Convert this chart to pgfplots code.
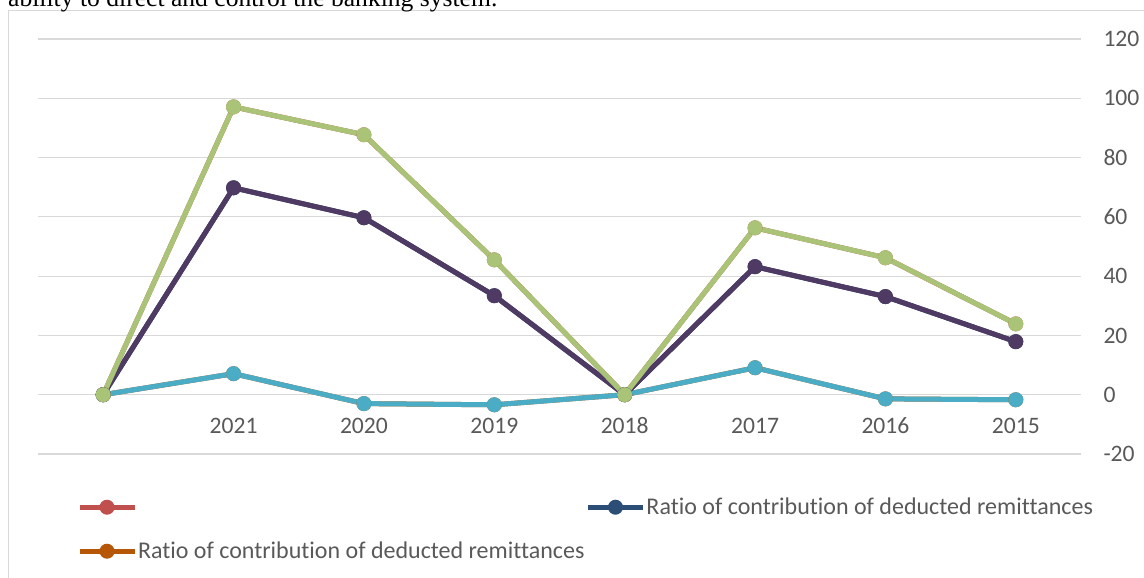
\documentclass[border=0pt]{standalone}
\usepackage{pgfplots}
\pgfplotsset{compat=1.18}
\usepackage{fontspec}
\setmainfont{Carlito}[Ligatures=NoCommon]
\newfontfamily\serifft{Liberation Serif}
\definecolor{cgreen}{HTML}{A9C477}
\definecolor{cpurple}{HTML}{4F3A63}
\definecolor{cteal}{HTML}{4BACC6}
\definecolor{cred}{HTML}{C0504D}
\definecolor{cblue}{HTML}{2C4D75}
\definecolor{corange}{HTML}{B65708}
\definecolor{cgrid}{HTML}{D9D9D9}
\definecolor{ctext}{HTML}{595959}
\pgfplotstableread{
x green purple teal
0 0 0 0
1 97.1 69.8 7.1
2 87.7 59.7 -3.0
3 45.5 33.4 -3.4
4 0 0 0
5 56.3 43.2 9.1
6 46.2 33.1 -1.4
7 23.9 17.9 -1.7
}\datatab
\begin{document}
\begin{tikzpicture}[x=1bp,y=1bp]
\draw[cgrid, line width=1.3bp] (8.5,-10.7) rectangle (1170,-610);
\node[anchor=base west, inner sep=0pt, font=\serifft\fontsize{25.6bp}{30bp}\selectfont] at (8,-7) {ability to direct and control the banking system.};
\begin{axis}[
  at={(38bp,-454bp)}, anchor=south west,
  scale only axis, width=1043bp, height=415bp,
  xmin=-0.5, xmax=7.5, ymin=-20, ymax=120,
  axis x line=middle, axis y line=right,
  axis line style={draw=none},
  xtick={0,...,7}, xticklabels={,2021,2020,2019,2018,2017,2016,2015},
  ytick={-20,0,20,40,60,80,100,120},
  major tick length=0pt,
  ymajorgrids, grid style={cgrid, line width=1.2bp},
  tick label style={font=\fontsize{23.6bp}{28bp}\selectfont, text=ctext},
  xticklabel style={yshift=-20bp, text height=15bp, text depth=0bp},
  yticklabel style={xshift=19bp},
  /pgf/number format/assume math mode=true,
  clip=false,
  legend columns=2,
  legend cell align=left,
  legend image code/.code={\draw[mark repeat=2,mark phase=2,#1] plot coordinates {(0bp,2bp) (27.5bp,2bp) (55bp,2bp)};},
  legend style={at={(axis description cs:0.0374,-0.1053)}, anchor=north west,
    draw=none, fill=none, inner sep=0pt, outer sep=0pt,
    font=\fontsize{24bp}{28bp}\selectfont, text=ctext,
    nodes={inner sep=1bp, text height=16bp, text depth=5bp},
    row sep=21bp,
    /tikz/every even column/.append style={column sep=0bp}},
]
\addplot[color=cred, line width=5bp, mark=*, mark size=7bp, mark options={line width=1bp, fill=cred}] table[x=x,y=green] {\datatab};
\addlegendentry{}
\addplot[color=cblue, line width=5bp, mark=*, mark size=7bp, mark options={line width=1bp, fill=cblue}] table[x=x,y=purple] {\datatab};
\addlegendentry{Ratio of contribution of deducted remittances}
\addplot[color=corange, line width=5bp, mark=*, mark size=7bp, mark options={line width=1bp, fill=corange}] table[x=x,y=teal] {\datatab};
\addlegendentry{Ratio of contribution of deducted remittances}
\addplot[forget plot, color=cteal, line width=5bp, mark=*, mark size=7bp, mark options={line width=1bp, fill=cteal}] table[x=x,y=teal] {\datatab};
\addplot[forget plot, color=cpurple, line width=5bp, mark=*, mark size=7bp, mark options={line width=1bp, fill=cpurple}] table[x=x,y=purple] {\datatab};
\addplot[forget plot, color=cgreen, line width=5bp, mark=*, mark size=7bp, mark options={line width=1bp, fill=cgreen}] table[x=x,y=green] {\datatab};
\end{axis}
\pgfresetboundingbox
\path[use as bounding box] (0,0) rectangle (1144,-578);
\end{tikzpicture}
\end{document}
